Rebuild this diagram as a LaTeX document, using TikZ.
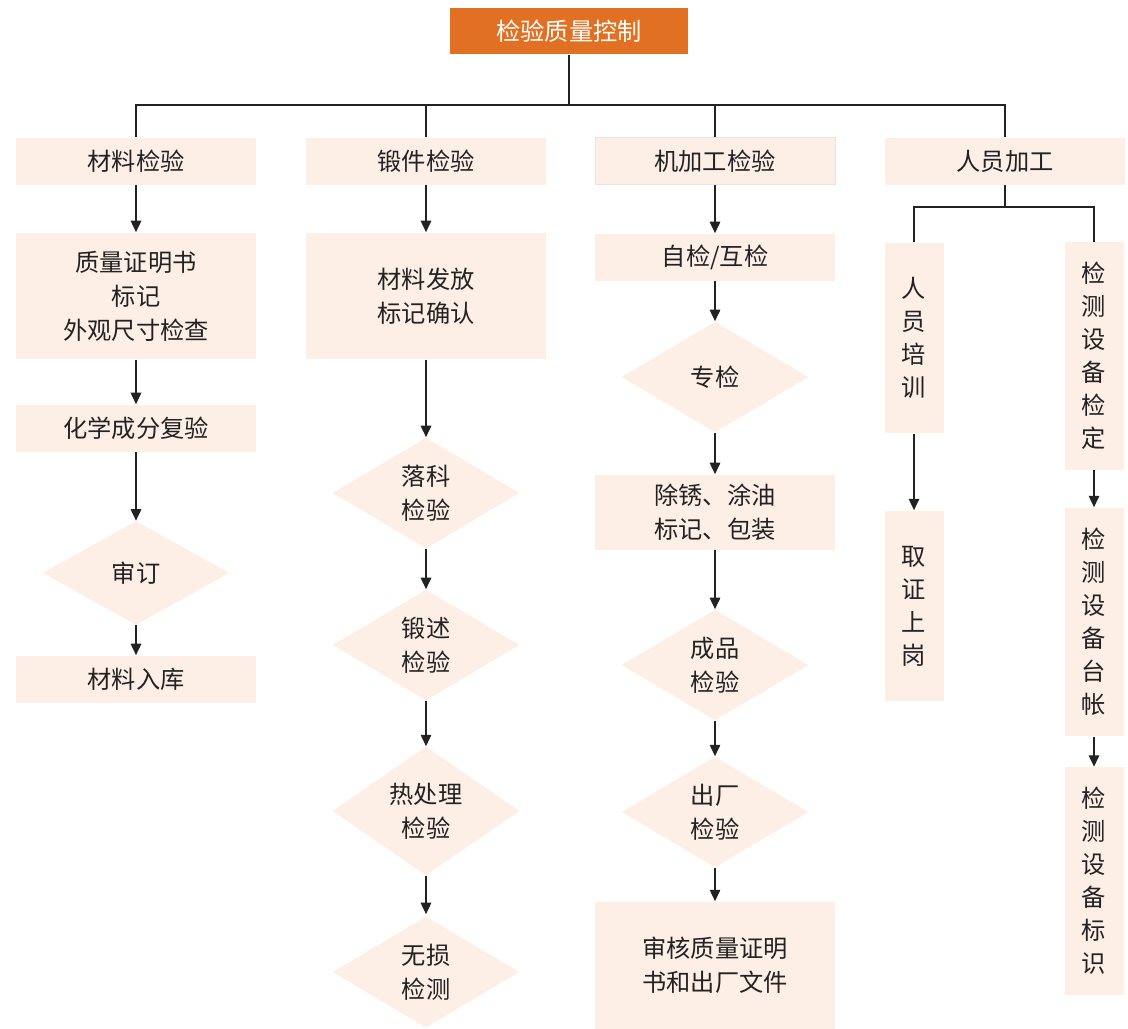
\documentclass[tikz,border=0pt]{standalone}
\usepackage{fontspec}
\setmainfont{Noto Sans CJK SC}
\usetikzlibrary{shapes.geometric,arrows.meta}
\definecolor{boxfill}{HTML}{FDEEE6}
\definecolor{headfill}{HTML}{E27022}
\definecolor{linec}{HTML}{222222}

\begin{document}
\begin{tikzpicture}[x=0.02cm,y=-0.02cm,
  every node/.style={font=\fontsize{13.8}{19.3}\selectfont, text=linec, align=center},
  box/.style={fill=boxfill, minimum width=4.8cm, minimum height=0.94cm, inner sep=2pt},
  bigbox/.style={box, minimum height=2.54cm},
  tallbox/.style={fill=boxfill, minimum width=1.18cm, inner sep=2pt, font=\fontsize{13.8}{18.8}\selectfont},
  check/.style={diamond, fill=boxfill, minimum width=3.74cm, minimum height=2.22cm, inner sep=0pt},
  arr/.style={-{Triangle[length=6.5pt,width=6pt]}, linec, thick},
  link/.style={linec, thick}]
\useasboundingbox (0,0) rectangle (1128,1028);

\node(top) [fill=headfill, text=white, minimum width=4.76cm, minimum height=0.94cm] at (569,31) {检验质量控制};

% materials
\node(m1) [box] at (136,161) {材料检验};
\node(m2) [bigbox] at (136,296) {质量证明书\\标记\\外观尺寸检查};
\node(m3) [box] at (136,428) {化学成分复验};
\node(m4) [check, minimum width=3.74cm, minimum height=2.08cm] at (136,573) {审订};
\node(m5) [box] at (136,679) {材料入库};

% forging
\node(f1) [box] at (426,161) {锻件检验};
\node(f2) [bigbox] at (426,296) {材料发放\\标记确认};
\node(f3) [check] at (426,493) {落科\\检验};
\node(f4) [check] at (426,645) {锻述\\检验};
\node(f5) [check] at (426,811) {热处理\\检验};
\node(f6) [check, draw=white, line width=1pt, minimum width=3.82cm, minimum height=2.28cm] at (426,972) {无损\\检测};

% machining
\node(k1) [box, draw=gray!20] at (715,161) {机加工检验};
\node(k2) [box] at (715,257) {自检/互检};
\node(k3) [check] at (715,377) {专检};
\node(k4) [box, minimum height=1.5cm] at (715,512) {除锈、涂油\\标记、包装};
\node(k5) [check] at (715,665) {成品\\检验};
\node(k6) [check] at (715,812) {出厂\\检验};
\node(k7) [bigbox] at (715,965) {审核质量证明\\书和出厂文件};

% personnel
\node(r0) [box] at (1005,161) {人员加工};
\node(r1) [tallbox, minimum height=3.82cm] at (914,338) {人\\员\\培\\训};
\node(r2) [tallbox, minimum height=4.56cm] at (1094,356) {检\\测\\设\\备\\检\\定};
\node(r3) [tallbox, minimum height=3.82cm] at (914,606) {取\\证\\上\\岗};
\node(r4) [tallbox, minimum height=4.58cm] at (1094,622) {检\\测\\设\\备\\台\\帐};
\node(r5) [tallbox, minimum height=4.56cm] at (1094,881) {检\\测\\设\\备\\标\\识};

\coordinate(bus) at (569,105);
\coordinate(split) at (1005,207);

\draw[link] (top) -- (bus) -| (m1);
\draw[link] (bus) -| (f1);
\draw[link] (bus) -| (k1);
\draw[link] (bus) -| (r0);

\draw[arr] (m1) -- (m2);
\draw[arr] (m2) -- (m3);
\draw[arr] (m3) -- (m4);
\draw[arr] (m4) -- (m5);

\draw[arr] (f1) -- (f2);
\draw[arr] (f2) -- (f3);
\draw[arr] (f3) -- (f4);
\draw[arr] (f4) -- (f5);
\draw[arr] (f5) -- (f6);

\draw[arr] (k1) -- (k2);
\draw[arr] (k2) -- (k3);
\draw[arr] (k3) -- (k4);
\draw[arr] (k4) -- (k5);
\draw[arr] (k5) -- (k6);
\draw[arr] (k6) -- (k7);

\draw[link] (r0) -- (split) -| (r1);
\draw[link] (split) -| (r2);
\draw[arr] (r1) -- (r3);
\draw[arr] (r2) -- (r4);
\draw[arr] (r4) -- (r5);
\end{tikzpicture}
\end{document}
